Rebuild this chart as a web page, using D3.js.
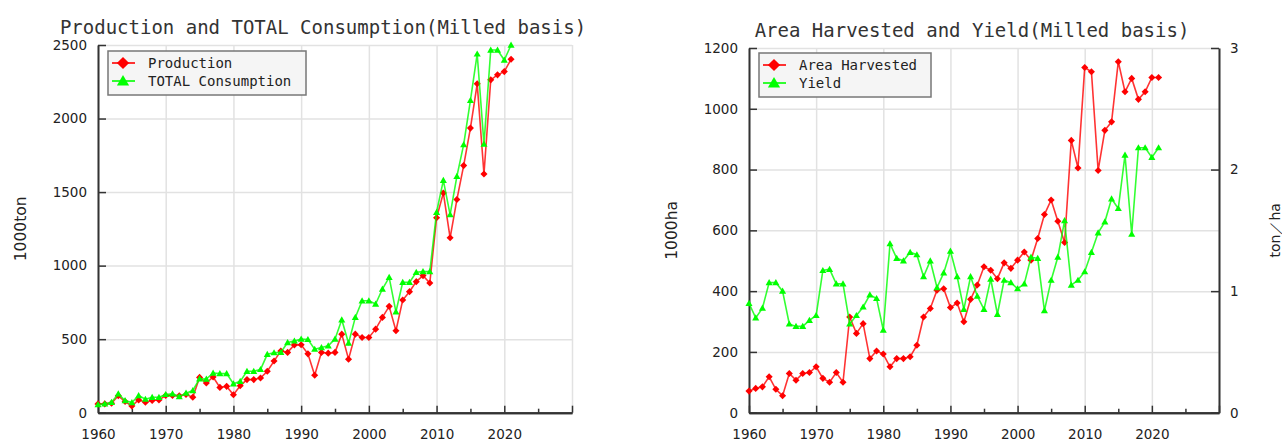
<!DOCTYPE html>
<html>
<head>
<meta charset="utf-8">
<script src="https://cdn.jsdelivr.net/npm/d3@7"></script>
<style>
  body { margin: 0; background: #fff; }
  svg { display: block; }
</style>
</head>
<body>
<script>
// --- data ---
const years = d3.range(1960, 2022);

const production = [
  60, 60, 64, 115, 76, 46, 87, 71, 83, 87,
  117, 117, 115, 124, 105, 240, 202, 243, 172, 179,
  122, 183, 225, 225, 236, 282, 351, 420, 410, 461,
  462, 400, 255, 410, 405, 410, 534, 364, 534, 511,
  511, 568, 648, 723, 557, 766, 823, 891, 932, 882,
  1325, 1494, 1189, 1449, 1680, 1935, 2236, 1623, 2263, 2297,
  2319, 2403
];
const consumption = [
  55, 60, 71, 128, 83, 69, 117, 92, 105, 105,
  124, 128, 110, 133, 151, 230, 229, 270, 266, 266,
  197, 213, 282, 282, 294, 397, 408, 410, 477, 488,
  500, 498, 432, 443, 455, 500, 632, 473, 648, 761,
  761, 739, 841, 920, 686, 886, 886, 955, 959, 959,
  1363, 1580, 1347, 1607, 1822, 2123, 2439, 1826, 2466, 2466,
  2398, 2500
];
const areaHarvested = [
  71, 80, 85, 118, 77, 56, 129, 107, 129, 132,
  151, 113, 100, 132, 100, 315, 261, 293, 178, 203,
  193, 151, 178, 178, 184, 222, 315, 343, 403, 408,
  346, 361, 299, 373, 420, 480, 469, 441, 493, 475,
  502, 529, 502, 573, 652, 700, 630, 560, 896, 805,
  1136, 1122, 797, 929, 957, 1155, 1056, 1100, 1031, 1056,
  1103, 1103
];
const yieldTon = [
  0.90, 0.78, 0.86, 1.07, 1.07, 1.00, 0.73, 0.71, 0.71, 0.76,
  0.80, 1.17, 1.18, 1.06, 1.06, 0.73, 0.80, 0.87, 0.97, 0.94,
  0.68, 1.39, 1.27, 1.25, 1.32, 1.30, 1.12, 1.25, 1.03, 1.15,
  1.33, 1.12, 0.85, 1.12, 0.96, 0.85, 1.10, 0.81, 1.09, 1.07,
  1.02, 1.06, 1.28, 1.27, 0.84, 1.09, 1.28, 1.58, 1.05, 1.09,
  1.16, 1.32, 1.48, 1.57, 1.76, 1.68, 2.12, 1.47, 2.18, 2.18,
  2.10, 2.18
];

const xMajor = [1960, 1970, 1980, 1990, 2000, 2010, 2020, 2030];
const xMinor = [1965, 1975, 1985, 1995, 2005, 2015, 2025];
const leftTicksA = [0, 500, 1000, 1500, 2000, 2500];
const leftTicksB = [0, 200, 400, 600, 800, 1000, 1200];
const rightTicksB = [0, 1, 2, 3];

const width = 1282;
const height = 441;
const RED = "#ff0000";
const GREEN = "#00ff00";
const MONO = "'DejaVu Sans Mono', monospace";
const SANS = "'DejaVu Sans', sans-serif";
const plain = d3.format("d");

const svg = d3.select("body").append("svg")
  .attr("width", width).attr("height", height);

// marker shapes
const diamond = {draw(ctx, size) {
  const r = Math.sqrt(size) / 2;
  ctx.moveTo(0, -r); ctx.lineTo(r, 0); ctx.lineTo(0, r); ctx.lineTo(-r, 0); ctx.closePath();
}};
const triangle = {draw(ctx, size) {
  const r = Math.sqrt(size) / 2;
  ctx.moveTo(0, -r); ctx.lineTo(r, r * 0.75); ctx.lineTo(-r, r * 0.75); ctx.closePath();
}};

const styleAxis = (g) => {
  g.select(".domain").attr("stroke", "#333").attr("stroke-width", 2);
  g.selectAll(".tick line").attr("stroke", "#333").attr("stroke-width", 1.5);
  g.selectAll(".tick text").attr("fill", "#222")
    .style("font-family", SANS).style("font-size", "13.5px");
};

const drawSeries = (g, x, y, values, color, shape) => {
  const pts = years.map((yr, i) => [x(yr), y(values[i])]);
  g.append("path")
    .attr("d", d3.line()(pts))
    .attr("fill", "none")
    .attr("stroke", color)
    .attr("stroke-opacity", 0.8)
    .attr("stroke-width", 1.6);
  g.selectAll(null).data(pts).enter().append("path")
    .attr("transform", (p) => `translate(${p[0]},${p[1]})`)
    .attr("d", d3.symbol(shape, 50))
    .attr("fill", color);
};

const drawLegend = (g, x0, y0, w, items) => {
  g.append("rect")
    .attr("x", x0).attr("y", y0).attr("width", w).attr("height", 44)
    .attr("fill", "#f5f5f5").attr("stroke", "#777").attr("stroke-width", 1.5);
  items.forEach((it, i) => {
    const cy = y0 + 12 + i * 18;
    g.append("line")
      .attr("x1", x0 + 4).attr("x2", x0 + 27).attr("y1", cy).attr("y2", cy)
      .attr("stroke", it.color).attr("stroke-width", 1.6);
    g.append("path")
      .attr("transform", `translate(${x0 + 15},${cy})`)
      .attr("d", d3.symbol(it.shape, 150))
      .attr("fill", it.color);
    g.append("text")
      .attr("x", x0 + 40).attr("y", cy + 5)
      .attr("fill", "#222")
      .style("font-family", MONO).style("font-size", "14px")
      .text(it.label);
  });
};

const panel = (opt) => {
  const g = svg.append("g");
  const bottom = 412.7;
  const x = d3.scaleLinear().domain([1960, 2030]).range([opt.left, opt.right]);
  const y = d3.scaleLinear().domain([0, opt.yMax]).range([bottom, opt.top]);
  const pw = opt.right - opt.left;
  const ph = bottom - opt.top;

  // grid
  g.append("g").attr("transform", `translate(0,${bottom})`)
    .call(d3.axisBottom(x).tickValues(xMajor).tickSize(-ph).tickFormat(""))
    .call((a) => { a.select(".domain").remove(); a.selectAll("line").attr("stroke", "#e2e2e2").attr("stroke-width", 1.5); });
  g.append("g").attr("transform", `translate(${opt.left},0)`)
    .call(d3.axisLeft(y).tickValues(opt.yTicks).tickSize(-pw).tickFormat(""))
    .call((a) => { a.select(".domain").remove(); a.selectAll("line").attr("stroke", "#e2e2e2").attr("stroke-width", 1.5); });

  // axes
  g.append("g").attr("transform", `translate(0,${bottom})`)
    .call(d3.axisBottom(x).tickValues(xMinor).tickSize(-4).tickSizeOuter(0).tickFormat(""))
    .call(styleAxis);
  g.append("g").attr("transform", `translate(0,${bottom})`)
    .call(d3.axisBottom(x).tickValues(xMajor).tickSize(-7).tickSizeOuter(0).tickPadding(17)
      .tickFormat((d) => d < 2030 ? plain(d) : ""))
    .call(styleAxis);
  g.append("g").attr("transform", `translate(${opt.left},0)`)
    .call(d3.axisLeft(y).tickValues(opt.yTicks).tickSize(-8).tickSizeOuter(0).tickPadding(11).tickFormat(plain))
    .call(styleAxis);

  g.append("text")
    .attr("x", (opt.left + opt.right) / 2 + opt.titleDx).attr("y", opt.top - 11)
    .attr("text-anchor", "middle").attr("fill", "#333")
    .style("font-family", MONO).style("font-size", "19px")
    .text(opt.title);
  g.append("text")
    .attr("transform", `translate(${opt.yLabelX},${(bottom + opt.top) / 2}) rotate(-90)`)
    .attr("text-anchor", "middle").attr("fill", "#222")
    .style("font-family", SANS).style("font-size", "15.5px")
    .text(opt.yLabel);

  return {g, x, y, bottom};
};

// --- left chart ---
const A = panel({
  left: 98, right: 572, top: 45, yMax: 2500, yTicks: leftTicksA,
  title: "Production and TOTAL Consumption(Milled basis)", titleDx: -12,
  yLabel: "1000ton", yLabelX: 26
});
drawSeries(A.g, A.x, A.y, production, RED, diamond);
drawSeries(A.g, A.x, A.y, consumption, GREEN, triangle);
drawLegend(A.g, 108, 51, 198, [
  {label: "Production", color: RED, shape: diamond},
  {label: "TOTAL Consumption", color: GREEN, shape: triangle}
]);

// --- right chart ---
const B = panel({
  left: 749, right: 1219, top: 48, yMax: 1200, yTicks: leftTicksB,
  title: "Area Harvested and Yield(Milled basis)", titleDx: -12,
  yLabel: "1000ha", yLabelX: 677
});
const y2 = d3.scaleLinear().domain([0, 3]).range([B.bottom, 48]);
B.g.append("g").attr("transform", "translate(1219,0)")
  .call(d3.axisRight(y2).tickValues(rightTicksB).tickSize(-8).tickSizeOuter(0).tickPadding(11).tickFormat(plain))
  .call(styleAxis);
B.g.append("text")
  .attr("transform", `translate(1280,${(B.bottom + 48) / 2}) rotate(-90)`)
  .attr("text-anchor", "middle").attr("fill", "#222")
  .style("font-family", SANS).style("font-size", "14px")
  .text("ton／ha");
drawSeries(B.g, B.x, B.y, areaHarvested, RED, diamond);
drawSeries(B.g, B.x, y2, yieldTon, GREEN, triangle);
drawLegend(B.g, 759, 53, 172, [
  {label: "Area Harvested", color: RED, shape: diamond},
  {label: "Yield", color: GREEN, shape: triangle}
]);
</script>
</body>
</html>
